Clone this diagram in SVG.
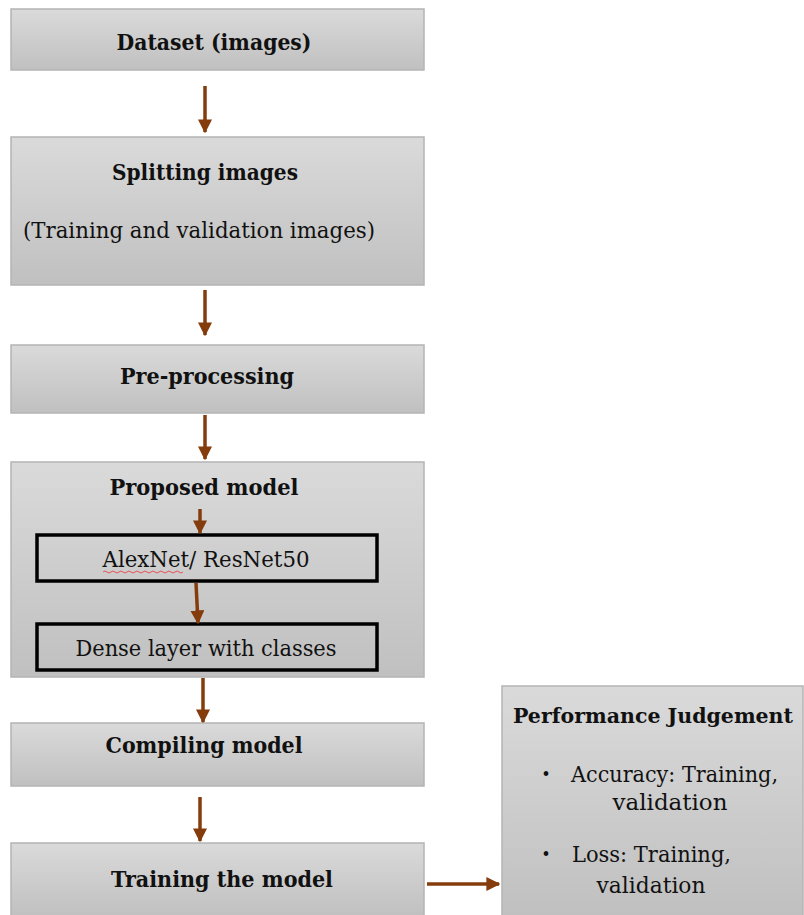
<svg xmlns="http://www.w3.org/2000/svg" width="804" height="915" viewBox="0 0 804 915">
<defs>
<linearGradient id="g" x1="0" y1="0" x2="0" y2="1">
<stop offset="0" stop-color="#dadada"/>
<stop offset="1" stop-color="#c0c0c0"/>
</linearGradient>
<marker id="ah" viewBox="0 0 10 10" refX="9" refY="5" markerWidth="4" markerHeight="4" orient="auto" markerUnits="strokeWidth">
<path d="M0,0 L10,5 L0,10 z" fill="#843c0c"/>
</marker>
<style>
.box{fill:url(#g);stroke:#b4b4b4;stroke-width:1.5}
.inner{fill:none;stroke:#000;stroke-width:3.5}
.t{font-family:"DejaVu Serif","Liberation Serif",serif;font-size:21.5px;fill:#111;text-anchor:middle}
.b{font-weight:bold}
.l{text-anchor:start}
.s{font-size:16px}
.pj{font-size:20px}
.c{stroke:#843c0c;stroke-width:3.5;fill:none;marker-end:url(#ah)}
</style>
</defs>
<rect width="804" height="915" fill="#fff"/>
<g id="n-dataset">
<rect class="box" x="11" y="9" width="413" height="61"/>
<text class="t b" x="214" y="50" textLength="195" lengthAdjust="spacingAndGlyphs">Dataset (images)</text>
</g>
<g id="n-splitting">
<rect class="box" x="11" y="137" width="413" height="148"/>
<text class="t b" x="205" y="180" textLength="186" lengthAdjust="spacingAndGlyphs">Splitting images</text>
<text class="t l" x="23" y="238" textLength="352" lengthAdjust="spacingAndGlyphs">(Training and validation images)</text>
</g>
<g id="n-preprocessing">
<rect class="box" x="11" y="345" width="413" height="68"/>
<text class="t b" x="207" y="384" textLength="174" lengthAdjust="spacingAndGlyphs">Pre-processing</text>
</g>
<g id="n-proposed">
<rect class="box" x="11" y="462" width="413" height="215"/>
<text class="t b" x="204" y="495" textLength="189" lengthAdjust="spacingAndGlyphs">Proposed model</text>
</g>
<g id="n-alexnet">
<rect class="inner" x="37" y="535" width="340" height="46"/>
<text class="t" x="206" y="567" textLength="207" lengthAdjust="spacingAndGlyphs">AlexNet/ ResNet50</text>
<path d="M103,572 q2,-2 4,0 t4,0 t4,0 t4,0 t4,0 t4,0 t4,0 t4,0 t4,0 t4,0 t4,0 t4,0 t4,0 t4,0 t4,0 t4,0 t4,0 t4,0 t4,0 t4,0" fill="none" stroke="#e33" stroke-width="0.8"/>
</g>
<g id="n-dense">
<rect class="inner" x="37" y="624" width="340" height="46"/>
<text class="t" x="206" y="656" textLength="261" lengthAdjust="spacingAndGlyphs">Dense layer with classes</text>
</g>
<g id="n-compiling">
<rect class="box" x="11" y="723" width="413" height="63"/>
<text class="t b" x="204" y="753" textLength="197" lengthAdjust="spacingAndGlyphs">Compiling model</text>
</g>
<g id="n-training">
<rect class="box" x="11" y="843" width="413" height="74"/>
<text class="t b" x="222" y="887" textLength="222" lengthAdjust="spacingAndGlyphs">Training the model</text>
</g>
<g id="n-performance">
<rect class="box" x="502" y="686" width="301" height="231"/>
<text class="t b pj" x="653" y="723" textLength="280" lengthAdjust="spacingAndGlyphs">Performance Judgement</text>
<text class="t s" x="546" y="780">•</text>
<text class="t l" x="571" y="782" textLength="207" lengthAdjust="spacingAndGlyphs">Accuracy: Training,</text>
<text class="t" x="670" y="810" textLength="115" lengthAdjust="spacingAndGlyphs">validation</text>
<text class="t s" x="546" y="860">•</text>
<text class="t l" x="572" y="862" textLength="159" lengthAdjust="spacingAndGlyphs">Loss: Training,</text>
<text class="t" x="651" y="893" textLength="109" lengthAdjust="spacingAndGlyphs">validation</text>
</g>
<g id="connectors">
<line class="c" x1="205" y1="86" x2="205" y2="132"/>
<line class="c" x1="205" y1="290" x2="205" y2="335"/>
<line class="c" x1="205" y1="415" x2="205" y2="459"/>
<line class="c" x1="200" y1="509" x2="200" y2="533"/>
<line class="c" x1="196" y1="583" x2="198" y2="623"/>
<line class="c" x1="203" y1="678" x2="203" y2="722"/>
<line class="c" x1="200" y1="797" x2="200" y2="841"/>
<line class="c" x1="427" y1="884" x2="499" y2="884"/>
</g>
</svg>
